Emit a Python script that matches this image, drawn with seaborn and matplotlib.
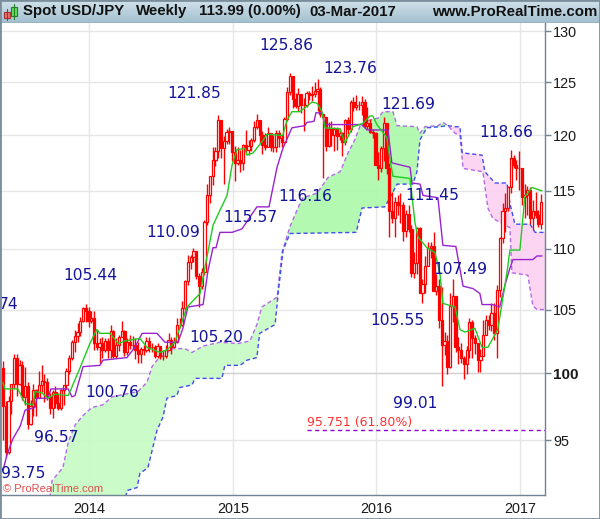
import numpy as np
import seaborn as sns
import matplotlib.pyplot as plt
from matplotlib.patches import Rectangle

# weekly candles, 07-Jun-2013 .. 03-Mar-2017
OPENS = [100.4, 97.5, 94.1, 97.9, 99.2, 101.2, 99.2, 100.6, 98.2, 99.0,
         96.2, 97.5, 98.7, 98.1, 99.1, 99.4, 99.3, 98.2, 97.4, 98.6,
         97.7, 97.4, 98.7, 99.1, 100.2, 101.2, 102.4, 102.9, 103.2, 104.1,
         105.1, 104.9, 104.1, 104.3, 102.3, 102.0, 102.3, 101.8, 102.5, 101.8,
         103.3, 101.3, 102.2, 102.8, 103.3, 101.6, 102.4, 102.2, 102.2, 101.8,
         101.5, 101.9, 101.8, 102.5, 102.0, 102.0, 101.3, 102.1, 101.3, 101.3,
         101.8, 102.6, 102.0, 102.4, 103.8, 103.8, 105.1, 107.3, 108.9, 109.3,
         109.8, 107.7, 106.9, 108.1, 112.3, 114.6, 116.3, 117.8, 118.6, 121.4,
         118.8, 119.5, 120.3, 120.4, 118.5, 117.5, 117.8, 117.5, 119.1, 118.7,
         119.0, 119.6, 120.8, 121.4, 120.0, 119.1, 118.9, 120.2, 118.9, 118.9,
         120.2, 119.8, 119.4, 121.5, 124.1, 125.6, 123.4, 122.7, 123.9, 122.8,
         122.8, 124.0, 123.8, 123.9, 124.2, 124.3, 122.0, 121.7, 119.0, 120.6,
         120.0, 120.6, 119.9, 120.2, 119.4, 121.4, 120.6, 123.1, 122.6, 122.8,
         122.8, 123.1, 120.9, 121.1, 120.3, 120.2, 117.3, 117.0, 118.8, 121.1,
         117.0, 113.2, 112.6, 114.0, 113.8, 113.8, 111.5, 113.0, 111.7, 108.0,
         108.8, 111.8, 106.3, 107.1, 108.6, 110.1, 110.2, 106.5, 106.9, 104.2,
         102.2, 102.5, 100.5, 105.3, 106.1, 102.0, 101.8, 101.2, 100.7, 101.8,
         104.0, 102.7, 102.3, 101.0, 101.3, 103.0, 104.2, 103.8, 104.7, 103.1,
         106.6, 110.9, 113.2, 113.5, 115.3, 117.9, 117.3, 117.0, 117.0, 114.5,
         114.6, 115.1, 112.6, 113.2, 112.9, 112.1]
CLOSES = [97.5, 94.1, 97.9, 99.2, 101.2, 99.2, 100.6, 98.2, 99.0, 96.2,
          97.5, 98.7, 98.1, 99.1, 99.4, 99.3, 98.2, 97.4, 98.6, 97.7,
          97.4, 98.7, 99.1, 100.2, 101.2, 102.4, 102.9, 103.2, 104.1, 105.1,
          104.9, 104.1, 104.3, 102.3, 102.0, 102.3, 101.8, 102.5, 101.8, 103.3,
          101.3, 102.2, 102.8, 103.3, 101.6, 102.4, 102.2, 102.2, 101.8, 101.5,
          101.9, 101.8, 102.5, 102.0, 102.0, 101.3, 102.1, 101.3, 101.3, 101.8,
          102.6, 102.0, 102.4, 103.8, 103.8, 105.1, 107.3, 108.9, 109.3, 109.8,
          107.7, 106.9, 108.1, 112.3, 114.6, 116.3, 117.8, 118.6, 121.4, 118.8,
          119.5, 120.3, 120.4, 118.5, 117.5, 117.8, 117.5, 119.1, 118.7, 119.0,
          119.6, 120.8, 121.4, 120.0, 119.1, 118.9, 120.2, 118.9, 118.9, 120.2,
          119.8, 119.4, 121.5, 124.1, 125.6, 123.4, 122.7, 123.9, 122.8, 122.8,
          124.0, 123.8, 123.9, 124.2, 124.3, 122.0, 121.7, 119.0, 120.6, 120.0,
          120.6, 119.9, 120.2, 119.4, 121.4, 120.6, 123.1, 122.6, 122.8, 122.8,
          123.1, 120.9, 121.1, 120.3, 120.2, 117.3, 117.0, 118.8, 121.1, 117.0,
          113.2, 112.6, 114.0, 113.8, 113.8, 111.5, 113.0, 111.7, 108.0, 108.8,
          111.8, 106.3, 107.1, 108.6, 110.1, 110.2, 106.5, 106.9, 104.2, 102.2,
          102.5, 100.5, 105.3, 106.1, 102.0, 101.8, 101.2, 100.7, 101.8, 104.0,
          102.7, 102.3, 101.0, 101.3, 103.0, 104.2, 103.8, 104.7, 103.1, 106.6,
          110.9, 113.2, 113.5, 115.3, 117.9, 117.3, 117.0, 117.0, 114.5, 114.6,
          115.1, 112.6, 113.2, 112.9, 112.1, 113.99]
HIGHS = [100.9, 97.9, 98.3, 99.2, 101.5, 101.5, 101.0, 100.9, 100.5, 99.3,
         98.0, 99.2, 98.8, 100.2, 100.6, 99.9, 99.6, 98.5, 98.7, 99.0,
         98.5, 98.8, 99.1, 100.4, 101.4, 102.6, 103.4, 103.9, 104.4, 105.2,
         105.44, 105.2, 104.9, 104.9, 103.4, 102.7, 102.8, 102.7, 102.7, 103.8,
         103.4, 102.7, 103.0, 104.1, 103.4, 102.7, 103.0, 102.9, 102.7, 102.4,
         102.0, 102.2, 102.8, 102.8, 102.3, 102.2, 102.3, 102.1, 101.8, 102.2,
         103.1, 102.8, 102.8, 104.3, 104.3, 105.7, 107.4, 109.5, 109.5, 110.09,
         109.0, 108.0, 108.4, 112.5, 115.57, 116.1, 118.98, 118.98, 121.85, 121.4,
         119.9, 120.6, 120.8, 120.4, 119.0, 118.9, 118.7, 119.2, 120.5, 119.6,
         119.8, 121.3, 122.0, 121.4, 120.4, 120.2, 120.8, 120.2, 120.0, 120.5,
         120.5, 120.0, 121.7, 124.5, 125.86, 125.4, 124.0, 124.4, 123.9, 123.5,
         124.2, 124.2, 124.6, 125.0, 125.28, 124.5, 122.0, 121.7, 121.2, 121.3,
         120.8, 120.8, 120.7, 120.3, 121.5, 121.7, 123.3, 123.6, 123.76, 123.2,
         123.67, 123.4, 122.6, 121.5, 120.6, 120.3, 118.5, 119.0, 121.69, 121.0,
         117.5, 114.9, 114.5, 114.6, 114.8, 114.0, 113.3, 113.8, 112.0, 109.7,
         111.9, 111.9, 107.5, 109.4, 110.6, 110.6, 111.45, 107.9, 107.5, 106.8,
         103.2, 103.0, 106.3, 107.49, 106.0, 102.8, 102.3, 101.3, 102.1, 104.3,
         104.2, 103.0, 102.3, 101.9, 104.2, 104.6, 104.6, 105.5, 105.5, 107.0,
         111.0, 113.9, 114.8, 115.4, 118.66, 118.2, 117.8, 118.6, 116.9, 115.6,
         115.4, 115.3, 114.2, 114.9, 113.3, 114.7]
LOWS = [95.0, 93.75, 94.0, 96.9, 98.9, 98.3, 99.1, 98.0, 97.6, 95.8,
        96.1, 96.8, 96.8, 98.1, 98.6, 97.8, 98.0, 96.9, 96.6, 97.4,
        97.2, 97.2, 97.6, 98.8, 99.9, 101.0, 101.6, 102.4, 102.9, 104.0,
        104.0, 103.6, 103.9, 101.8, 101.8, 100.76, 101.2, 101.6, 101.2, 101.2,
        101.2, 101.2, 101.7, 102.8, 101.3, 101.4, 101.9, 101.9, 101.1, 100.8,
        100.8, 101.4, 101.6, 101.6, 101.6, 101.2, 101.2, 101.1, 101.0, 101.2,
        101.8, 101.5, 102.0, 102.3, 103.5, 103.7, 104.7, 107.0, 108.3, 108.9,
        107.5, 105.20, 106.7, 107.8, 112.0, 113.9, 115.5, 117.2, 117.9, 117.9,
        115.57, 119.2, 119.2, 117.7, 115.85, 117.3, 116.7, 116.9, 118.3, 118.2,
        118.6, 119.4, 120.6, 119.3, 118.3, 118.7, 119.0, 118.6, 118.5, 118.5,
        118.9, 118.9, 119.3, 121.3, 123.8, 122.5, 122.5, 122.3, 122.1, 120.4,
        122.6, 123.3, 123.2, 123.6, 122.3, 121.7, 116.16, 118.6, 118.9, 119.0,
        118.6, 118.7, 119.6, 118.1, 119.1, 120.1, 120.3, 122.3, 122.4, 122.4,
        121.9, 120.7, 120.6, 120.2, 119.8, 117.3, 115.97, 116.7, 117.7, 116.5,
        110.98, 112.2, 111.0, 112.9, 112.2, 110.7, 111.0, 111.4, 107.67, 107.6,
        107.9, 106.3, 105.55, 106.3, 108.6, 109.2, 106.5, 106.2, 103.5, 99.01,
        101.4, 99.9, 100.4, 104.0, 101.6, 100.7, 100.8, 99.55, 99.9, 101.2,
        101.2, 101.5, 100.1, 100.1, 101.3, 103.0, 103.4, 103.3, 102.6, 101.2,
        106.0, 110.5, 111.4, 113.2, 114.8, 117.0, 116.0, 115.1, 113.8, 112.6,
        112.9, 112.1, 111.6, 112.6, 111.9, 111.7]

# conversion line
GREEN_WEEK = [0, 0.7, 5.4, 8, 10.9, 11.6, 14.1, 16.3, 18.8, 23.6, 25, 27.9, 31.5, 34, 35.1,
              38.8, 41.7, 44.2, 49.6, 52.2, 56.9, 59.4, 62.3, 66.7, 71.4, 73.9, 76.1, 78.6,
              81.2, 83, 84.8, 87.7, 88.4, 90.6, 93.8, 95.7, 101.4, 102.9, 104.7, 107.6, 112,
              113.8, 115.6, 116.7, 122.1, 123.9, 126.8, 130.4, 133, 134, 135.5, 139.1, 140.2,
              141.3, 147.5, 149.3, 150.4, 153.6, 156.5, 158.3, 159.4, 163.8, 165.6, 167.4,
              171, 173.6, 175.7, 177.5, 179.3, 182.6, 183.7, 187.3, 189.1, 191.7, 195.3]
GREEN = [99.3, 98.8, 98.8, 97.7, 97.6, 98.6, 98.5, 98.1, 98.4, 98.3, 98.95, 100.4, 102.3, 103.4, 103.1,
         103.1, 102.3, 102.5, 102.7, 102.0, 101.6, 101.8, 102.4, 105.2, 106.3, 109.3, 112.0, 113.3,
         114.6, 117.3, 118.7, 118.8, 118.2, 118.4, 119.4, 120.1, 120.0, 121.4, 122.2, 122.2, 123.1,
         123.0, 122.2, 120.7, 120.6, 119.3, 120.8, 121.1, 121.8, 121.8, 121.0, 119.8, 117.8,
         116.3, 116.1, 112.2, 111.0, 110.1, 109.7, 108.0, 105.5, 105.2, 103.4, 103.2,
         103.5, 102.0, 102.0, 102.7, 103.4, 108.0, 109.9, 109.9, 114.5, 115.3, 115.0]

# base line
PURPLE_WEEK = [0, 1.4, 3.6, 6.2, 8, 11.6, 12.3, 16.3, 17.4, 23.6, 25, 26.1, 29, 35.1, 36.2, 44.9,
               47.8, 50.4, 55.8, 58.7, 63.4, 65.2, 67, 72.5, 74.3, 76.1, 77.2, 78.6, 83, 86.6,
               92, 96.4, 99.3, 101.4, 104.7, 109.4, 110.1, 112.7, 113.4, 115.6, 116.7, 130,
               131.9, 139.5, 140.9, 147.5, 148.2, 151.1, 152.2, 157.6, 159.4, 164.1, 166.7,
               170.3, 172.8, 173.6, 177.2, 180, 181.9, 183.7, 184.8, 192, 193.5, 195.3]
PURPLE = [92.8, 93.9, 95.1, 96.0, 97.2, 97.4, 98.1, 98.1, 98.8, 98.8, 98.2, 98.3, 100.5, 100.6, 101.0,
          101.2, 102.0, 103.1, 103.1, 102.4, 102.4, 103.5, 105.2, 105.4, 108.2, 110.1, 110.1, 111.4,
          111.4, 111.7, 113.6, 113.6, 117.1, 118.8, 120.7, 120.9, 121.2, 121.3, 122.1, 122.1, 121.0,
          121.0, 120.5, 120.5, 117.5, 117.1, 115.7, 115.6, 114.6, 114.4, 110.3, 110.2, 106.9, 106.7,
          106.3, 105.4, 105.4, 105.2, 107.0, 108.4, 109.1, 109.1, 109.4, 109.4]

# leading span A (dashed purple)
SPAN_A_WEEK = [17, 17.8, 21.7, 23.6, 26.1, 29, 32.2, 36.2, 39.5, 48.9, 52.2, 54, 55.8, 61.6, 65.9,
               68.5, 72.5, 78.6, 85.1, 89.5, 92, 93.8, 99.3, 101.1, 104, 107.6, 108.7, 113.8,
               117.8, 122.1, 123.2, 125, 127.5, 129.3, 131.2, 135.9, 137.7, 141.3, 142.8, 150,
               151.1, 152.9, 157.6, 159.4, 161.2, 163.8, 165.6, 166.7, 173.9, 175.7, 177.5,
               183.7, 184.4, 190.2, 192, 193.5, 196.4]
SPAN_A = [90.9, 92.1, 93.0, 94.8, 96.1, 96.8, 97.4, 97.6, 98.2, 98.6, 99.3, 100.5, 101.0, 101.9, 101.9,
          101.6, 102.1, 102.4, 102.3, 102.5, 103.8, 105.2, 106.0, 109.7, 111.9, 113.9, 114.4, 114.8,
          116.2, 116.7, 117.3, 118.4, 119.6, 120.8, 121.3, 121.6, 122.2, 122.2, 120.9, 120.8,
          120.2, 120.8, 120.9, 121.2, 120.9, 120.2, 120.0, 117.0, 116.7, 113.5, 112.6,
          111.8, 108.0, 107.8, 105.3, 105.0, 105.0]

# leading span B (dashed blue)
SPAN_B_WEEK = [17, 44.5, 45, 48.6, 49.6, 52.5, 55.8, 58, 59.4, 63, 64, 68.5, 69.6, 79.3, 80.4, 85.9,
               88.4, 92, 93, 98.6, 99.7, 101.5, 104, 128, 130.1, 138.4, 140.2, 142.8, 148.5, 150,
               151.1, 153.6, 158.3, 161.2, 163.8, 165.6, 166.4, 173.6, 174.6, 178.3, 182.6,
               183.7, 185.5, 191, 192.8, 196.4]
SPAN_B = [90.0, 91.0, 91.4, 91.6, 92.6, 93.0, 95.7, 96.7, 98.1, 98.3, 98.9, 99.1, 99.6, 99.6, 100.6, 100.6,
          101.0, 101.2, 103.1, 103.8, 106.3, 109.9, 111.3, 111.4, 113.5, 113.6, 114.4, 115.6, 115.6, 116.7,
          119.6, 120.7, 120.8, 120.9, 120.8, 120.8, 118.4, 118.2, 116.7, 115.7, 115.7,
          113.9, 112.1, 112.1, 111.4, 111.4]

LABELS = ["74", "93.75", "96.57", "100.76", "105.44", "105.20", "110.09", "115.57", "116.16", "121.85",
          "125.86", "123.76", "121.69", "118.66", "111.45", "107.49", "105.55", "99.01"]
LABEL_WEEK = [1.9, 7.4, 19.2, 39.5, 31.5, 77.2, 61.6, 89.5, 109.4, 69.2,
              102.5, 125.7, 146.7, 182.2, 155.4, 165.6, 142.8, 149.3]
LABEL_PRICE = [105.4, 92.6, 95.2, 98.5, 107.8, 102.8, 111.4, 112.7, 114.5, 123.9,
               128.6, 126.3, 122.9, 120.3, 114.6, 108.3, 104.1, 97.7]

YEAR_TICKS = [31.2, 83.3, 135.1, 187.3]
YEAR_LABELS = ["2014", "2015", "2016", "2017"]
PRICE_TICKS = [95, 100, 105, 110, 115, 120, 125, 130]
FIBO = 95.751

W, H = 600, 519

sns.set_style("white")
plt.rcParams["font.family"] = "Liberation Sans"

fig = plt.figure(figsize=(W / 100, H / 100), dpi=100)
ax = fig.add_axes([1 / W, 1 - 495 / H, 544 / W, 472 / H])
ax.set_yscale("log")
ax.set_xlim(-0.72, 196.4)
ax.set_ylim(91.08, 130.8)

# grid
ax.set_xticks(YEAR_TICKS, YEAR_LABELS)
ax.set_yticks(PRICE_TICKS, [str(p) for p in PRICE_TICKS])
ax.minorticks_off()
ax.grid(True, color="#e6e6e6", lw=1)
ax.set_axisbelow(True)
ax.axhline(100, color="#d2d2d2", lw=1, zorder=0.6)
ax.yaxis.tick_right()
ax.tick_params(axis="x", length=4, color="#6f8494", width=1, labelsize=10.4, labelcolor="#1a1a1a", pad=1)
ax.tick_params(axis="y", length=4, color="#6f8494", width=1, labelsize=10.4, labelcolor="#1a1a1a", pad=2)
ax.get_yticklabels()[1].set_fontweight("bold")
ax.get_yticklabels()[1].set_fontsize(11)
for side in ["top", "left"]:
    ax.spines[side].set_visible(False)
for side in ["right", "bottom"]:
    ax.spines[side].set_color("#6f8494")
    ax.spines[side].set_linewidth(1)

# cloud, split where the spans cross; the lighter and stronger greens share the edge at week 99.5
weeks_a, weeks_b = np.array(SPAN_A_WEEK), np.array(SPAN_B_WEEK)
a, b = np.array(SPAN_A), np.array(SPAN_B)
CROSS = 161.2
for lo, hi, col in [(0, 99.7, "#c6fbc4"), (99.3, CROSS, "#aef9ab"), (CROSS, 200, "#fbd2f0")]:
    ma = (weeks_a >= lo) & (weeks_a <= hi)
    mb = (weeks_b >= lo) & (weeks_b <= hi)
    ax.fill(np.r_[weeks_a[ma], weeks_b[mb][::-1]], np.r_[a[ma], b[mb][::-1]], color=col, lw=0, alpha=0.92, zorder=1)
sns.lineplot(x=SPAN_A_WEEK, y=SPAN_A, ax=ax, color="#b36ae8", lw=1, linestyle=(0, (3, 2)), estimator=None, sort=False, zorder=2)
sns.lineplot(x=SPAN_B_WEEK, y=SPAN_B, ax=ax, color="#3f4cf0", lw=1, linestyle=(0, (3, 2)), estimator=None, sort=False, zorder=2)

# candles
weeks = np.arange(len(CLOSES))
opens, closes = np.array(OPENS), np.array(CLOSES)
ax.vlines(weeks, LOWS, HIGHS, color="#ff0000", lw=1, zorder=3)
up = closes >= opens
ax.bar(weeks, np.abs(closes - opens), bottom=np.minimum(opens, closes), width=0.8,
       color=np.where(up, "white", "#ff0000"), edgecolor="#ff0000", lw=0.9, zorder=4)

sns.lineplot(x=PURPLE_WEEK, y=PURPLE, ax=ax, color="#9a22cf", lw=1, estimator=None, sort=False, zorder=5)
sns.lineplot(x=GREEN_WEEK, y=GREEN, ax=ax, color="#1fcb1f", lw=1, estimator=None, sort=False, zorder=6)

# the value labels
for txt, w, p in zip(LABELS, LABEL_WEEK, LABEL_PRICE):
    ax.text(w, p, txt, color="#14149a", fontsize=11.2, family="DejaVu Sans", ha="center", va="center", zorder=8)

# retracement level
ax.plot([110.1, 196.4], [FIBO, FIBO], color="#9000d0", lw=1, ls=(0, (3, 2.5)), zorder=7)
ax.text(110.1, 96.3, "95.751 (61.80%)", color="#ff3030", fontsize=9, family="DejaVu Sans", ha="left", va="center", zorder=8)
ax.text(0.003, 0.012, "\u00a9 ProRealTime.com", transform=ax.transAxes, color="#e04f4f", fontsize=8,
        ha="left", va="center", zorder=9)

# header bar
head = fig.add_axes([0, 1 - 23 / H, 1, 23 / H])
head.imshow(np.linspace(0, 1, 23).reshape(-1, 1), aspect="auto", extent=(0, W, 23, 0),
            cmap=sns.blend_palette(["#cfe1ea", "#a3c0cf"], as_cmap=True))
head.axhline(22.5, color="#6b8695", lw=1)
head.set_xlim(0, W)
head.set_ylim(23, 0)
head.axis("off")
head.add_patch(Rectangle((3.5, 12), 6, 6, fc="#f07070", ec="#a03030", lw=0.8))
head.plot([6.5, 6.5], [9, 20], color="#a03030", lw=0.8)
head.add_patch(Rectangle((11, 7), 6, 9, fc="#60e060", ec="#208020", lw=0.8))
head.plot([14, 14], [4, 19], color="#208020", lw=0.8)
for x, txt, ha in [(23, "Spot USD/JPY", "left"), (136, "Weekly", "left"), (199, "113.99 (0.00%)", "left"),
                   (309, "03-Mar-2017", "left"), (597, "www.ProRealTime.com", "right")]:
    head.text(x, 11.5, txt, fontsize=10.8, fontweight="bold", color="#111111", ha=ha, va="center")

# outer frame
fig.add_artist(Rectangle((0, 0), 1, 1, transform=fig.transFigure, fill=False, ec="#7b8e9c", lw=2))

fig.savefig("out.png", dpi=100)
